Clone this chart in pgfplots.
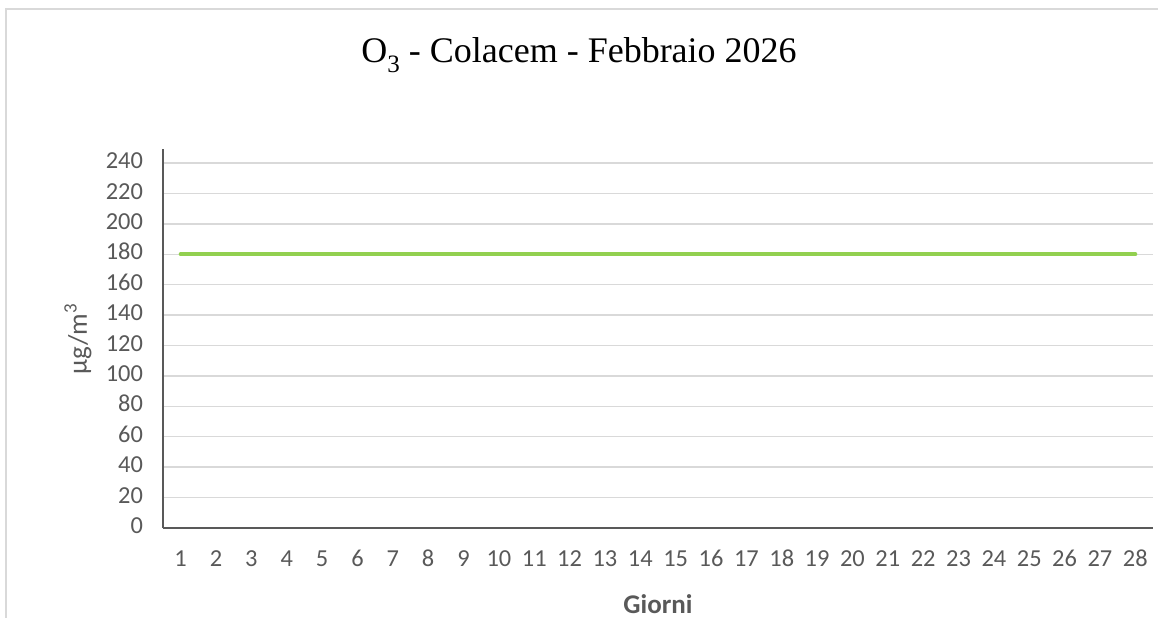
\documentclass[border=0pt]{standalone}
\usepackage{fontspec}
\setmainfont{Carlito}
\newfontfamily\titlefont{Liberation Serif}
\usepackage{pgfplots}
\pgfplotsset{compat=1.18}
\definecolor{axisgray}{HTML}{595959}
\definecolor{gridgray}{HTML}{D9D9D9}
\definecolor{ozone}{HTML}{92D050}
\begin{document}
\begin{tikzpicture}
\useasboundingbox (0,0) rectangle (579pt,308.5pt);
% chart frame (only top and left edges show)
\draw[gridgray, line width=0.8pt] (3pt,-5pt) -- (3pt,304pt) -- (600pt,304pt);
\node[font=\titlefont\fontsize{18}{21}\selectfont, anchor=center] at (289.5pt,281pt)
  {O\raisebox{-5pt}{\fontsize{12.5}{13}\selectfont 3} - Colacem - Febbraio 2026};
\begin{axis}[
  at={(81.5pt,44.5pt)}, anchor=south west,
  scale only axis, width=495pt, height=189.5pt,
  xmin=0.5, xmax=28.5, ymin=0, ymax=249.2,
  xtick={1,...,28}, ytick={0,20,...,240},
  axis x line*=bottom, axis y line*=left,
  axis line style={axisgray, line width=0.9pt, -},
  major tick length=0pt,
  ymajorgrids, grid style={gridgray, line width=0.7pt},
  /pgf/number format/assume math mode=true,
  typeset ticklabels with strut,
  ticklabel style={font=\fontsize{12.2}{14}\selectfont, text=axisgray},
  yticklabel style={xshift=-6.5pt},
  xticklabel style={yshift=-6pt},
  xlabel={\textbf{Giorni}},
  xlabel style={font=\fontsize{13.5}{16}\selectfont, text=axisgray, inner sep=0pt,
    at={(axis description cs:0.5,-0.2)}, anchor=center},
  ylabel={µg/m\textsuperscript{3}},
  ylabel style={font=\fontsize{13.5}{16}\selectfont, text=axisgray,
    at={(axis description cs:-0.0859,0.5)}, anchor=center, rotate=0},
]
\addplot[ozone, line width=2pt, line cap=round, mark=none] coordinates {
  (1,180)(2,180)(3,180)(4,180)(5,180)(6,180)(7,180)(8,180)(9,180)(10,180)
  (11,180)(12,180)(13,180)(14,180)(15,180)(16,180)(17,180)(18,180)(19,180)(20,180)
  (21,180)(22,180)(23,180)(24,180)(25,180)(26,180)(27,180)(28,180)
};
\end{axis}
\end{tikzpicture}
\end{document}
